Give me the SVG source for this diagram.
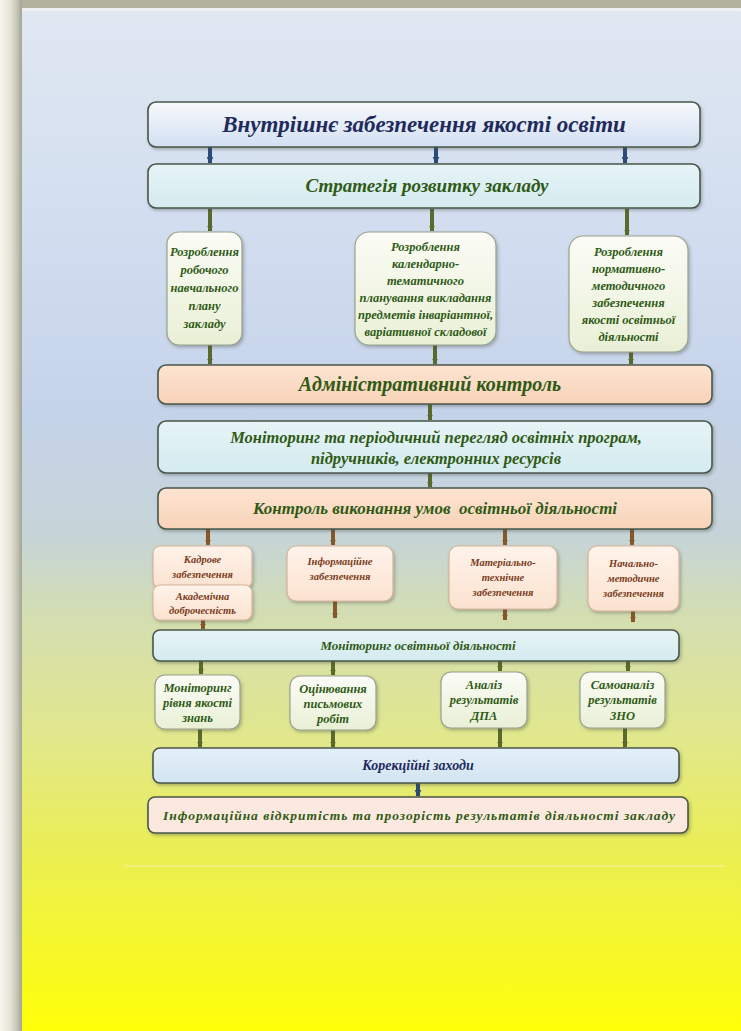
<svg xmlns="http://www.w3.org/2000/svg" width="741" height="1031" viewBox="0 0 741 1031">
<defs>
<linearGradient id="bg" x1="0" y1="0" x2="0" y2="1">
<stop offset="0" stop-color="#e1e8f2"/>
<stop offset="0.2" stop-color="#d3dff0"/>
<stop offset="0.4" stop-color="#c5d3ea"/>
<stop offset="0.52" stop-color="#c6d4d8"/>
<stop offset="0.6" stop-color="#d4deb0"/>
<stop offset="0.72" stop-color="#e2e88a"/>
<stop offset="0.82" stop-color="#eaee56"/>
<stop offset="1" stop-color="#ffff08"/>
</linearGradient>
<linearGradient id="gTop" x1="0" y1="0" x2="0" y2="1">
<stop offset="0" stop-color="#f7f9fc"/>
<stop offset="1" stop-color="#d2e0f2"/>
</linearGradient>
<linearGradient id="gCyan" x1="0" y1="0" x2="0" y2="1">
<stop offset="0" stop-color="#e6f4f6"/>
<stop offset="1" stop-color="#d4ebef"/>
</linearGradient>
<linearGradient id="gPale" x1="0" y1="0" x2="0" y2="1">
<stop offset="0" stop-color="#fbfcf6"/>
<stop offset="1" stop-color="#e9f0d6"/>
</linearGradient>
<linearGradient id="gPeach" x1="0" y1="0" x2="0" y2="1">
<stop offset="0" stop-color="#fde4d2"/>
<stop offset="1" stop-color="#f8d3b8"/>
</linearGradient>
<linearGradient id="gSmall" x1="0" y1="0" x2="0" y2="1">
<stop offset="0" stop-color="#fff3ea"/>
<stop offset="1" stop-color="#fbe2d0"/>
</linearGradient>
<linearGradient id="gBlue" x1="0" y1="0" x2="0" y2="1">
<stop offset="0" stop-color="#e4f0f8"/>
<stop offset="1" stop-color="#d2e4f2"/>
</linearGradient>
<linearGradient id="frameL" x1="0" y1="0" x2="1" y2="0">
<stop offset="0" stop-color="#f6f6ee"/>
<stop offset="0.45" stop-color="#e4e4da"/>
<stop offset="0.75" stop-color="#c8c8ba"/>
<stop offset="1" stop-color="#a4a494"/>
</linearGradient>
<filter id="sh" x="-10%" y="-10%" width="120%" height="130%">
<feDropShadow dx="1.5" dy="2" stdDeviation="1.5" flood-color="#404840" flood-opacity="0.35"/>
</filter>
<marker id="aBlue" viewBox="0 0 10 10" refX="5" refY="9" markerWidth="10" markerHeight="7" markerUnits="userSpaceOnUse">
<path d="M0 0 L10 0 L5 10 Z" fill="#2c4a78"/>
</marker>
<marker id="aGreen" viewBox="0 0 10 10" refX="5" refY="9" markerWidth="9" markerHeight="6" markerUnits="userSpaceOnUse">
<path d="M0 0 L10 0 L5 10 Z" fill="#5a6a2a"/>
</marker>
<marker id="aBrown" viewBox="0 0 10 10" refX="5" refY="9" markerWidth="9" markerHeight="6" markerUnits="userSpaceOnUse">
<path d="M0 0 L10 0 L5 10 Z" fill="#86582a"/>
</marker>
</defs>
<style>
text{font-family:"Liberation Serif","DejaVu Serif",serif;font-style:italic;font-weight:bold;text-anchor:middle}
.navy{fill:#1f2b5c}
.grn{fill:#2f5a16}
.brn{fill:#7a3c1c;font-size:10.5px}
.box{stroke:#4a5648;stroke-width:1.6;filter:url(#sh)}
.soft{stroke:#9aa08e;stroke-width:1.2;filter:url(#sh)}
.smallb{stroke:#d6b49a;stroke-width:1.2;filter:url(#sh)}
.cb{stroke:#2c4a78;stroke-width:4;marker-end:url(#aBlue);fill:none}
.cg{stroke:#5a6a2a;stroke-width:4;marker-end:url(#aGreen);fill:none}
.cr{stroke:#86582a;stroke-width:4;marker-end:url(#aBrown);fill:none}
</style>

<!-- background & frame -->
<rect x="0" y="0" width="741" height="1031" fill="url(#bg)"/>
<rect x="0" y="0" width="741" height="8" fill="#b2b29e"/>
<rect x="0" y="8" width="741" height="3" fill="#eef0f4"/>
<rect x="0" y="0" width="22" height="1031" fill="url(#frameL)"/>
<line x1="125" y1="866" x2="725" y2="866" stroke="#f4f2a8" stroke-width="1"/>

<g id="connectors">
<line class="cb" x1="210" y1="147" x2="210" y2="163"/>
<line class="cb" x1="436" y1="147" x2="436" y2="163"/>
<line class="cb" x1="625" y1="147" x2="625" y2="163"/>
<line class="cg" x1="210" y1="209" x2="210" y2="231"/>
<line class="cg" x1="432" y1="209" x2="432" y2="231"/>
<line class="cg" x1="627" y1="209" x2="627" y2="235"/>
<line class="cg" x1="210" y1="345" x2="210" y2="364"/>
<line class="cg" x1="435" y1="345" x2="435" y2="364"/>
<line class="cg" x1="631" y1="352" x2="631" y2="364"/>
<line class="cg" x1="430" y1="404" x2="430" y2="420"/>
<line class="cg" x1="430" y1="473" x2="430" y2="487"/>
<line class="cr" x1="208" y1="529" x2="208" y2="545"/>
<line class="cr" x1="333" y1="529" x2="333" y2="545"/>
<line class="cr" x1="505" y1="529" x2="505" y2="545"/>
<line class="cr" x1="632" y1="529" x2="632" y2="545"/>
<line class="cr" x1="203" y1="620" x2="203" y2="629"/>
<line class="cr" x1="335" y1="601" x2="335" y2="618"/>
<line class="cr" x1="505" y1="609" x2="505" y2="620"/>
<line class="cr" x1="633" y1="611" x2="633" y2="622"/>
<line class="cg" x1="201" y1="661" x2="201" y2="674"/>
<line class="cg" x1="333" y1="661" x2="333" y2="675"/>
<line class="cg" x1="500" y1="661" x2="500" y2="671"/>
<line class="cg" x1="628" y1="661" x2="628" y2="671"/>
<line class="cg" x1="200" y1="728" x2="200" y2="747"/>
<line class="cg" x1="333" y1="730" x2="333" y2="747"/>
<line class="cg" x1="500" y1="728" x2="500" y2="747"/>
<line class="cg" x1="625" y1="728" x2="625" y2="747"/>
<line class="cb" x1="418" y1="783" x2="418" y2="796"/>
</g>

<g id="n-vnutrishnie">
<rect class="box" x="148" y="102" width="552" height="45" rx="8" fill="url(#gTop)" stroke="#6c7a8c"/>
<text class="navy" x="424" y="132" font-size="23">Внутрішнє забезпечення якості освіти</text>
</g>

<g id="n-stratehiia">
<rect class="box" x="148" y="164" width="552" height="44" rx="8" fill="url(#gCyan)"/>
<text class="grn" x="427" y="192" font-size="19">Стратегія розвитку закладу</text>
</g>

<g id="n-robochyi-plan">
<rect class="soft" x="167" y="232" width="75" height="113" rx="12" fill="url(#gPale)"/>
<text class="grn" font-size="12.5"><tspan x="204.5" y="256">Розроблення</tspan><tspan x="204.5" y="274">робочого</tspan><tspan x="204.5" y="292">навчального</tspan><tspan x="204.5" y="310">плану</tspan><tspan x="204.5" y="328">закладу</tspan></text>
</g>

<g id="n-kalendarne">
<rect class="soft" x="355" y="232" width="141" height="113" rx="14" fill="url(#gPale)"/>
<text class="grn" font-size="12.5"><tspan x="425.5" y="251">Розроблення</tspan><tspan x="425.5" y="268">календарно-</tspan><tspan x="425.5" y="285">тематичного</tspan><tspan x="425.5" y="302">планування викладання</tspan><tspan x="425.5" y="319">предметів інваріантної,</tspan><tspan x="425.5" y="336">варіативної складової</tspan></text>
</g>

<g id="n-normatyvne">
<rect class="soft" x="569" y="236" width="119" height="116" rx="14" fill="url(#gPale)"/>
<text class="grn" font-size="12.5"><tspan x="628.5" y="256">Розроблення</tspan><tspan x="628.5" y="273">нормативно-</tspan><tspan x="628.5" y="290">методичного</tspan><tspan x="628.5" y="307">забезпечення</tspan><tspan x="628.5" y="324">якості освітньої</tspan><tspan x="628.5" y="341">діяльності</tspan></text>
</g>

<g id="n-admin-kontrol">
<rect class="box" x="158" y="365" width="554" height="39" rx="8" fill="url(#gPeach)" stroke="#6a5440"/>
<text class="grn" x="430" y="391" font-size="20">Адміністративний контроль</text>
</g>

<g id="n-monitorynh-prohram">
<rect class="box" x="158" y="421" width="554" height="52" rx="8" fill="url(#gCyan)" stroke="#3e4c54"/>
<text class="grn" font-size="16.5"><tspan x="436" y="443">Моніторинг та періодичний перегляд освітніх програм,</tspan><tspan x="436" y="464">підручників, електронних ресурсів</tspan></text>
</g>

<g id="n-kontrol-umov">
<rect class="box" x="158" y="488" width="554" height="41" rx="8" fill="url(#gPeach)" stroke="#6a5440"/>
<text class="grn" x="435" y="514" font-size="17" xml:space="preserve">Контроль виконання умов  освітньої діяльності</text>
</g>

<g id="n-kadrove">
<rect class="smallb" x="153" y="546" width="99" height="42" rx="7" fill="url(#gSmall)"/>
<text class="brn"><tspan x="202.5" y="563">Кадрове</tspan><tspan x="202.5" y="578">забезпечення</tspan></text>
</g>

<g id="n-akademichna">
<rect class="smallb" x="153" y="585" width="99" height="35" rx="7" fill="url(#gSmall)"/>
<text class="brn"><tspan x="202.5" y="600">Академічна</tspan><tspan x="202.5" y="614">доброчесність</tspan></text>
</g>

<g id="n-informatsiine">
<rect class="smallb" x="287" y="546" width="106" height="55" rx="9" fill="url(#gSmall)"/>
<text class="brn"><tspan x="340" y="565">Інформаційне</tspan><tspan x="340" y="580">забезпечення</tspan></text>
</g>

<g id="n-materialno">
<rect class="smallb" x="449" y="546" width="108" height="63" rx="9" fill="url(#gSmall)"/>
<text class="brn"><tspan x="503" y="566">Матеріально-</tspan><tspan x="503" y="581">технічне</tspan><tspan x="503" y="596">забезпечення</tspan></text>
</g>

<g id="n-nachalno">
<rect class="smallb" x="588" y="546" width="91" height="65" rx="9" fill="url(#gSmall)"/>
<text class="brn"><tspan x="633.5" y="567">Начально-</tspan><tspan x="633.5" y="582">методичне</tspan><tspan x="633.5" y="597">забезпечення</tspan></text>
</g>

<g id="n-monitorynh-diialnosti">
<rect class="box" x="153" y="630" width="526" height="31" rx="7" fill="url(#gCyan)" stroke="#2e3e48" stroke-width="2"/>
<text class="grn" x="418" y="650" font-size="13">Моніторинг освітньої діяльності</text>
</g>

<g id="n-riven-znan">
<rect class="soft" x="155" y="675" width="85" height="54" rx="10" fill="url(#gPale)"/>
<text class="grn" font-size="12.5"><tspan x="197.5" y="692">Моніторинг</tspan><tspan x="197.5" y="707">рівня якості</tspan><tspan x="197.5" y="722">знань</tspan></text>
</g>

<g id="n-otsiniuvannia">
<rect class="soft" x="290" y="676" width="86" height="54" rx="10" fill="url(#gPale)"/>
<text class="grn" font-size="12.5"><tspan x="333" y="693">Оцінювання</tspan><tspan x="333" y="708">письмових</tspan><tspan x="333" y="723">робіт</tspan></text>
</g>

<g id="n-dpa">
<rect class="soft" x="441" y="672" width="86" height="56" rx="10" fill="url(#gPale)"/>
<text class="grn" font-size="12.5"><tspan x="484" y="689">Аналіз</tspan><tspan x="484" y="704">результатів</tspan><tspan x="484" y="720">ДПА</tspan></text>
</g>

<g id="n-zno">
<rect class="soft" x="580" y="672" width="85" height="56" rx="10" fill="url(#gPale)"/>
<text class="grn" font-size="12.5"><tspan x="622.5" y="689">Самоаналіз</tspan><tspan x="622.5" y="704">результатів</tspan><tspan x="622.5" y="720">ЗНО</tspan></text>
</g>

<g id="n-korektsiini">
<rect class="box" x="153" y="748" width="526" height="35" rx="7" fill="url(#gBlue)" stroke="#34465a" stroke-width="2"/>
<text class="navy" x="418" y="770" font-size="14">Корекційні заходи</text>
</g>

<g id="n-vidkrytist">
<rect class="box" x="148" y="797" width="540" height="36" rx="7" fill="#fbe9df" stroke="#3e4a3e" stroke-width="2"/>
<text class="grn" x="419" y="820" font-size="13.5" textLength="512" lengthAdjust="spacing">Інформаційна відкритість та прозорість результатів діяльності закладу</text>
</g>
</svg>
